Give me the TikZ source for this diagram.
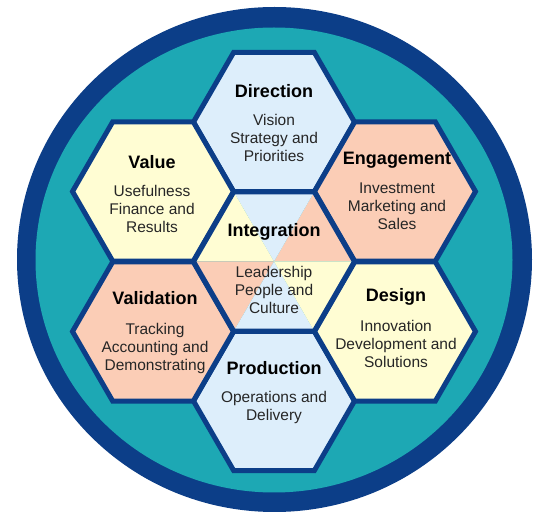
\documentclass[tikz,border=0pt]{standalone}
\usepackage{fontspec}
\setmainfont{Liberation Sans}
\usetikzlibrary{shapes.geometric}

\definecolor{ringblue}{RGB}{12,62,136}
\definecolor{seateal}{RGB}{29,168,180}
\definecolor{skyfill}{RGB}{221,238,251}
\definecolor{creamfill}{RGB}{255,253,211}
\definecolor{salmonfill}{RGB}{251,205,182}

\begin{document}
\begin{tikzpicture}[x=1pt, y=1pt]
    \tikzstyle{hexcell} = [regular polygon, regular polygon sides=6, minimum size=161pt,
                           inner sep=0pt, draw=ringblue, line width=5pt]
    \tikzstyle{head} = [font=\fontsize{18}{20}\selectfont\bfseries]
    \tikzstyle{body} = [align=center, font=\fontsize{15.5}{18}\selectfont, text=black!85]
    \useasboundingbox (0,0) rectangle (542,523);

    % outer ring
    \fill[ringblue] (274.5,263.5) ellipse [x radius=257.5, y radius=252.5];
    \fill[seateal] (274,263) ellipse [x radius=238.5, y radius=232.5];

    % outer cells
    \node[hexcell, fill=skyfill]    (direction)  at (274,401)   {};
    \node[hexcell, fill=skyfill]    (production) at (274,122)   {};
    \node[hexcell, fill=creamfill]  (value)      at (153,331.5) {};
    \node[hexcell, fill=salmonfill] (engagement) at (395,331.5) {};
    \node[hexcell, fill=salmonfill] (validation) at (153,191.5) {};
    \node[hexcell, fill=creamfill]  (design)     at (395,191.5) {};

    % middle cell, six coloured wedges
    \coordinate (hub) at (274,261.5);
    \foreach \a/\c in {0/salmonfill, 60/skyfill, 120/creamfill,
                       180/salmonfill, 240/skyfill, 300/creamfill}
        \fill[\c] (hub) -- ++(\a:80.5) -- ++(\a+120:80.5) -- cycle;
    \node[hexcell] (integration) at (hub) {};

    % labels
    \node[head] at (274,432) {Direction};
    \node[body] at (274,385) {Vision\\Strategy and\\Priorities};
    \node[head] at (152,361) {Value};
    \node[body] at (152,314) {Usefulness\\Finance and\\Results};
    \node[head] at (397,363) {Engagement};
    \node[body] at (397,317) {Investment\\Marketing and\\Sales};
    \node[head] at (274,291) {Integration};
    \node[body] at (274,233) {Leadership\\People and\\Culture};
    \node[head] at (155,225) {Validation};
    \node[body] at (155,175) {Tracking\\Accounting and\\Demonstrating};
    \node[head] at (396,226) {Design};
    \node[body] at (396,179) {Innovation\\Development and\\Solutions};
    \node[head] at (274,155) {Production};
    \node[body] at (274,116) {Operations and\\Delivery};
\end{tikzpicture}
\end{document}
